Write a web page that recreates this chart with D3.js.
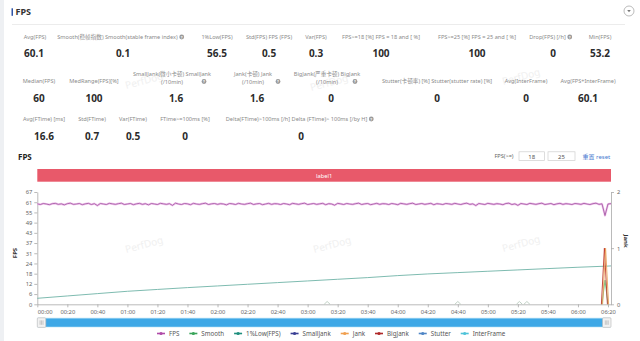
<!DOCTYPE html>
<html><head><meta charset="utf-8">
<script src="https://cdn.jsdelivr.net/npm/d3@7"></script>
<style>
html,body{margin:0;padding:0;background:#fff;}
svg{display:block;font-family:"Noto Sans","Noto Sans CJK SC",sans-serif;}
</style></head><body>
<svg id="c" width="640" height="341"></svg>
<script>
// ---- summary statistics ----
const statRow1Labels = ["Avg(FPS)", "Smooth(稳帧指数) Smooth(stable frame index)", "1%Low(FPS)", "Std(FPS) FPS (FPS)", "Var(FPS)", "FPS>=18 [%] FPS = 18 and [ %]", "FPS>=25 [%] FPS = 25 and [ %]", "Drop(FPS) [/h]", "Min(FPS)"];
const statRow1Values = ["60.1", "0.1", "56.5", "0.5", "0.3", "100", "100", "0", "53.2"];
const statRow1Help = [false, true, false, false, false, false, false, true, false];

const statRow2Labels = [["Median(FPS)"], ["MedRange(FPS)[%]"], ["SmallJank(微小卡顿) SmallJank", "(/10min)"], ["Jank(卡顿) Jank", "(/10min)"], ["BigJank(严重卡顿) BigJank", "(/10min)"], ["Stutter(卡顿率) [%] Stutter(stutter rate) [%]"], ["Avg(InterFrame)"], ["Avg(FPS+InterFrame)"]];
const statRow2Values = ["60", "100", "1.6", "1.6", "0", "0", "0", "60.1"];
const statRow2Help = [false, false, true, true, true, false, false, false];

const statRow3Labels = ["Avg(FTime) [ms]", "Std(FTime)", "Var(FTime)", "FTime>=100ms [%]", "Delta(FTime)>100ms [/h] Delta (FTime)> 100ms [/by H]"];
const statRow3Values = ["16.6", "0.7", "0.5", "0", "0"];
const statRow3Help = [false, false, false, false, true];

// ---- chart data ----
const durationSec = 382;
const timeTickLabels = ["00:00","00:20","00:40","01:00","01:20","01:40","02:00","02:20","02:40","03:00","03:20","03:40","04:00","04:20","04:40","05:00","05:20","05:40","06:00","06:20"];
const fpsAxisMax = 67.3;
const fpsTickLabels = ["0","6","12","18","24","31","37","43","49","55","61","67"];
const jankTickLabels = ["0","1","2"];
const thresholdValues = ["18", "25"];

// FPS sampled every 2 s
const fpsStepSec = 2;
const fpsValues = [
  60.2,59.8,60.4,60.1,59.7,60.3,60.5,59.9,60.2,59.6,
  60.3,60.6,59.9,60.1,60.4,59.7,60.2,60.5,59.8,60.3,
  59.2,60.4,60.1,59.8,60.5,60.2,59.9,60.3,60.6,59.8,
  60.1,60.4,59.7,60.2,60.5,59.9,60.3,59.6,60.4,60.1,
  59.8,60.5,60.2,59.9,60.3,59.3,60.6,60.1,59.8,60.4,
  60.2,59.7,60.5,60.1,59.9,60.3,60.6,59.8,60.2,60.4,
  59.9,60.3,60.1,59.6,60.4,60.2,59.8,60.5,60.1,59.9,
  60.3,60.6,59.8,60.2,60.4,59.7,60.1,60.5,59.9,60.3,
  60.2,59.8,60.4,60.1,59.7,60.5,60.2,59.9,60.3,60.6,
  59.8,60.1,60.4,59.9,60.2,60.5,59.7,60.3,60.1,59.4,
  60.5,60.2,59.8,60.4,60.1,59.9,60.3,60.6,59.8,60.2,
  60.4,59.7,60.1,60.5,59.9,60.3,60.2,59.8,60.4,60.1,
  59.7,60.5,60.2,59.9,60.3,60.6,59.8,60.1,60.4,59.9,
  60.2,60.5,59.7,60.3,60.1,59.8,60.4,60.2,59.9,60.5,
  60.1,59.8,60.3,60.6,59.9,60.2,59.2,60.4,60.1,59.8,
  60.5,60.2,59.9,60.3,60.1,59.7,60.4,60.6,59.8,60.2,
  59.3,60.4,60.1,59.8,60.5,60.2,59.9,60.3,60.6,59.8,
  60.1,60.4,59.7,60.2,60.5,59.9,60.3,60.1,59.8,60.4,
  60.2,59.9,60.5,60.1,59.8,60.3,60.6,59.9,60.2,53.2,
  60.1,60.3
];

// 1%Low(FPS) readings at each 20 s mark
const lowTimes  = [0,20,40,60,80,100,120,140,160,180,200,220,240,260,280,300,320,340,360,380,382];
const lowValues = [3.6,5.0,6.4,7.8,8.9,10.0,11.0,12.0,13.0,14.0,15.0,16.0,17.2,18.2,19.0,19.8,20.6,21.4,22.2,22.9,23.0];

// right-axis events (readings around each event)
const jankTimes = [376, 378, 380];
const jankValues = [0, 1, 0];
const bigJankTimes = [376, 378, 380];
const bigJankValues = [0, 1, 0];
const smoothEventTimes = [193, 280, 321, 326, 378];
const smoothEventValues = [0.05, 0.05, 0.05, 0.05, 0.43];

const legendNames = ["FPS","Smooth","1%Low(FPS)","SmallJank","Jank","BigJank","Stutter","InterFrame"];
const legendColors = ["#b04aa8","#3aa55a","#1f8f7e","#3a3f94","#f0a050","#b02a2a","#4f86c6","#4fc3d9"];

// ---- layout ----
const svg = d3.select("#c");
const W = 640, H = 341;
const LABEL_C = "#8a8a8a", VALUE_C = "#2b2b2b";

svg.append("rect").attr("width", W).attr("height", H).attr("fill", "#fff");
svg.append("rect").attr("x", 0).attr("y", 0).attr("width", 4).attr("height", H).attr("fill", "#eef0f3");

// watermarks
const marks = [[145,84],[330,86],[522,80],[145,248],[333,248],[522,247]];
svg.append("g").selectAll("text").data(marks).join("text")
  .attr("transform", d => `translate(${d[0]},${d[1]}) rotate(-15)`)
  .attr("text-anchor", "middle").attr("font-size", 10).attr("fill", "#f0f0f0")
  .text("PerfDog");

// header
svg.append("rect").attr("x", 11.5).attr("y", 8.3).attr("width", 1.5).attr("height", 7.5).attr("fill", "#2f54a8");
svg.append("text").attr("x", 15.5).attr("y", 15.3).attr("font-size", 9).attr("font-weight", 700).attr("fill", "#333").text("FPS");
svg.append("line").attr("x1", 12).attr("x2", 625).attr("y1", 24.5).attr("y2", 24.5).attr("stroke", "#ececec");
svg.append("circle").attr("cx", 629).attr("cy", 11).attr("r", 5).attr("fill", "#fff").attr("stroke", "#aaa").attr("stroke-width", 0.8);
svg.append("path").attr("d", "M627.2,10 L630.8,10 L629,12.2 Z").attr("fill", "#777");

function helpIcon(g, x, y) {
  g.append("circle").attr("cx", x).attr("cy", y).attr("r", 2.4).attr("fill", "#9a9a9a");
  g.append("text").attr("x", x).attr("y", y + 1.5).attr("text-anchor", "middle")
    .attr("font-size", 4).attr("font-weight", 700).attr("fill", "#fff").text("?");
}

function labelWithHelp(g, text, cx, y, help) {
  const t = g.append("text").attr("x", cx).attr("y", y).attr("text-anchor", "middle")
    .attr("font-size", 5.6).attr("fill", LABEL_C).text(text);
  if (help) {
    const w = t.node().getComputedTextLength();
    t.attr("x", cx - 3.5);
    helpIcon(g, cx - 3.5 + w / 2 + 4, y - 2);
  }
}

const stats = svg.append("g");
// row 1
const row1Label = [35,121,217,269,316,381,477,551,600];
const row1Value = [34,123,217,269,316,381,477,553,600];
statRow1Labels.forEach((l, i) => labelWithHelp(stats, l, row1Label[i], 39, statRow1Help[i]));
stats.selectAll(".v1").data(statRow1Values).join("text")
  .attr("x", (d, i) => row1Value[i]).attr("y", 57).attr("text-anchor", "middle")
  .attr("font-size", 10).attr("font-weight", 700).attr("fill", VALUE_C).text(d => d);

// row 2
const row2Label = [39,94,172,253,327,437,526,588];
const row2Value = [39,94,176,257,331,437,526,588];
const row2HelpX = [0,0,204,278,355,0,0,0];
statRow2Labels.forEach((lines, i) => {
  if (lines.length === 1) {
    stats.append("text").attr("x", row2Label[i]).attr("y", 83).attr("text-anchor", "middle")
      .attr("font-size", 5.6).attr("fill", LABEL_C).text(lines[0]);
  } else {
    lines.forEach((ln, k) => stats.append("text").attr("x", row2Label[i]).attr("y", 76 + k * 7.5)
      .attr("text-anchor", "middle").attr("font-size", 5.6).attr("fill", LABEL_C).text(ln));
  }
  if (statRow2Help[i]) helpIcon(stats, row2HelpX[i], 81.5);
});
stats.selectAll(".v2").data(statRow2Values).join("text")
  .attr("x", (d, i) => row2Value[i]).attr("y", 102).attr("text-anchor", "middle")
  .attr("font-size", 10).attr("font-weight", 700).attr("fill", VALUE_C).text(d => d);

// row 3
const row3Label = [44,92,133,185,300];
statRow3Labels.forEach((l, i) => labelWithHelp(stats, l, row3Label[i], 121, statRow3Help[i]));
stats.selectAll(".v3").data(statRow3Values).join("text")
  .attr("x", (d, i) => row3Label[i] + (i === 4 ? 1 : 0)).attr("y", 140).attr("text-anchor", "middle")
  .attr("font-size", 10).attr("font-weight", 700).attr("fill", VALUE_C).text(d => d);

// chart title and threshold inputs
svg.append("text").attr("x", 18).attr("y", 160).attr("font-size", 8).attr("font-weight", 700).attr("fill", "#222").text("FPS");
svg.append("text").attr("x", 504).attr("y", 158.3).attr("text-anchor", "middle").attr("font-size", 5.6).attr("fill", "#666").text("FPS(>=)");
const boxes = [[519, 25.5], [548, 27]];
boxes.forEach((b, i) => {
  svg.append("rect").attr("x", b[0]).attr("y", 151.8).attr("width", b[1]).attr("height", 8.6)
    .attr("fill", "#fff").attr("stroke", "#cfcfcf").attr("stroke-width", 0.7);
  svg.append("text").attr("x", b[0] + b[1] / 2).attr("y", 158.5).attr("text-anchor", "middle")
    .attr("font-size", 6).attr("fill", "#555").text(thresholdValues[i]);
});
svg.append("text").attr("x", 582.5).attr("y", 158.5).attr("font-size", 6).attr("fill", "#4a7bd0").text("重置 reset");

// ---- plot ----
const plotL = 37.3, plotR = 611, plotT = 192, plotB = 304.3;
const x = d3.scaleLinear().domain([0, durationSec]).range([plotL, plotR]);
const yL = d3.scaleLinear().domain([0, fpsAxisMax]).range([plotB, plotT]);
const yR = d3.scaleLinear().domain([0, 2]).range([plotB, plotT]);

// label band
svg.append("rect").attr("x", x(0)).attr("y", 169).attr("width", x(durationSec) - x(0)).attr("height", 12.7).attr("fill", "#e8596a");
svg.append("text").attr("x", (x(0) + x(durationSec)) / 2).attr("y", 177.6).attr("text-anchor", "middle")
  .attr("font-size", 5.8).attr("fill", "#fff").text("label1");

// axes
const fpsTicks = fpsTickLabels.map((_, i) => i * fpsAxisMax / (fpsTickLabels.length - 1));
const gL = svg.append("g").attr("transform", `translate(${plotL},0)`)
  .call(d3.axisLeft(yL).tickValues(fpsTicks).tickFormat((d, i) => fpsTickLabels[i]).tickSize(3).tickSizeOuter(0).tickPadding(2));
const gR = svg.append("g").attr("transform", `translate(${plotR},0)`)
  .call(d3.axisRight(yR).tickValues([0, 1, 2]).tickFormat((d, i) => jankTickLabels[i]).tickSize(3).tickSizeOuter(0).tickPadding(3));
const timeTicks = timeTickLabels.map((_, i) => i * 20);
const gB = svg.append("g").attr("transform", `translate(0,${plotB})`)
  .call(d3.axisBottom(x).tickValues(timeTicks).tickFormat((d, i) => timeTickLabels[i]).tickSize(3).tickSizeOuter(0).tickPadding(3));
[gL, gR, gB].forEach(g => {
  g.select(".domain").attr("stroke", "#a8a8a8").attr("stroke-width", 0.8);
  g.selectAll(".tick line").attr("stroke", "#a8a8a8").attr("stroke-width", 0.8);
  g.selectAll(".tick text").attr("font-size", 5.8).attr("fill", "#666").attr("font-family", "Noto Sans, sans-serif");
});
gB.selectAll(".tick text").filter((d, i) => i === 0).attr("text-anchor", "start");

svg.append("text").attr("transform", `translate(17,253) rotate(-90)`).attr("text-anchor", "middle")
  .attr("font-size", 6).attr("font-weight", 700).attr("fill", "#333").text("FPS");
svg.append("text").attr("transform", `translate(624,241) rotate(90)`).attr("text-anchor", "middle")
  .attr("font-size", 6).attr("font-weight", 700).attr("fill", "#333").text("Jank");

// series
const lowLine = d3.line().x(d => x(d[0])).y(d => yL(d[1]));
svg.append("path").datum(lowTimes.map((t, i) => [t, lowValues[i]]))
  .attr("d", lowLine).attr("fill", "none").attr("stroke", "#6fb3a7").attr("stroke-width", 0.9);

const fpsPts = fpsValues.map((v, i) => [Math.min(i * fpsStepSec, durationSec), v]);
const fpsLine = d3.line().x(d => x(d[0])).y(d => yL(d[1]));
svg.append("path").datum(fpsPts).attr("d", fpsLine).attr("fill", "none")
  .attr("stroke", "#f0c6ec").attr("stroke-width", 2.2).attr("stroke-linejoin", "round");
svg.append("path").datum(fpsPts).attr("d", fpsLine).attr("fill", "none")
  .attr("stroke", "#9a4a9b").attr("stroke-width", 0.75).attr("stroke-linejoin", "round");

const rLine = d3.line().x(d => x(d[0])).y(d => yR(d[1]));
smoothEventTimes.forEach((t, i) => {
  svg.append("path").datum([[t - 2, 0], [t, smoothEventValues[i]], [t + 2, 0]])
    .attr("d", rLine).attr("fill", "none").attr("stroke", i < 4 ? "#b9cbbd" : "#6cbf7a").attr("stroke-width", 0.9);
});
svg.append("path").datum(bigJankTimes.map((t, i) => [t - 0.4, bigJankValues[i]]))
  .attr("d", rLine).attr("fill", "none").attr("stroke", "#c0392b").attr("stroke-width", 0.9);
svg.append("path").datum(jankTimes.map((t, i) => [t + 0.4, jankValues[i]]))
  .attr("d", rLine).attr("fill", "none").attr("stroke", "#e9a15a").attr("stroke-width", 0.9);

// range slider
const sy = 318.4, sh = 8.4;
svg.append("rect").attr("x", plotL).attr("y", sy - 1).attr("width", plotR - plotL).attr("height", sh + 2).attr("fill", "#e3f4fb");
svg.append("rect").attr("x", plotL + 4).attr("y", sy).attr("width", plotR - plotL - 8).attr("height", sh).attr("fill", "#3ea8e6");
[plotL, plotR - 8.5].forEach(hx => {
  svg.append("rect").attr("x", hx).attr("y", sy - 0.6).attr("width", 8.5).attr("height", sh + 1.2).attr("rx", 1)
    .attr("fill", "#f2f2f2").attr("stroke", "#b5b5b5").attr("stroke-width", 0.6);
  [2.8, 4.25, 5.7].forEach(o => svg.append("line").attr("x1", hx + o).attr("x2", hx + o)
    .attr("y1", sy + 2).attr("y2", sy + sh - 2).attr("stroke", "#999").attr("stroke-width", 0.5));
});

// legend
const lg = svg.append("g");
let lx = 157;
legendNames.forEach((n, i) => {
  const c = legendColors[i];
  lg.append("line").attr("x1", lx).attr("x2", lx + 8).attr("y1", 333.5).attr("y2", 333.5).attr("stroke", c).attr("stroke-width", 1.6);
  lg.append("circle").attr("cx", lx + 4).attr("cy", 333.5).attr("r", 1.6).attr("fill", c);
  const t = lg.append("text").attr("x", lx + 12).attr("y", 335.8).attr("font-size", 6.2).attr("fill", "#555").text(n);
  lx += 12 + t.node().getComputedTextLength() + 10;
});
</script></body></html>
